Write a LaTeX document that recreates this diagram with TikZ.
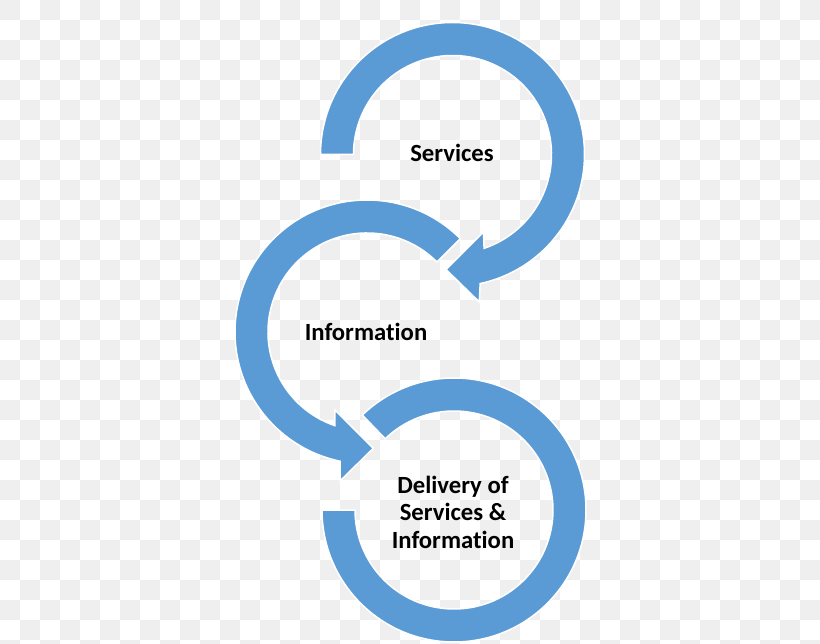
\documentclass[tikz,border=0pt]{standalone}
\usepackage{fontspec}
\setmainfont{Carlito}[Ligatures=NoCommon]
\usetikzlibrary{calc}
\definecolor{ringblue}{RGB}{91,155,213}
\definecolor{checkgray}{RGB}{239,239,239}
\tikzset{
  ringshape/.style={fill=ringblue, draw=white, line width=1.5, line join=miter},
  lbl/.style={font=\fontsize{24.7}{27.5}\selectfont\bfseries, text=black, inner sep=0pt, align=center}
}
\begin{document}
\begin{tikzpicture}[x=1pt,y=-1pt]
\useasboundingbox (0,0) rectangle (820,644);
\fill[white] (0,0) rectangle (820,644);
% checkerboard background
\foreach \i in {0,...,40}{
  \foreach \j in {0,...,32}{
    \pgfmathtruncatemacro\chk{mod(\i+\j,2)}
    \ifnum\chk=0
      \fill[checkgray] (20*\i,20*\j) rectangle ++(20,20);
    \fi
  }
}
\coordinate (C1) at (452.5,154.5);
\coordinate (C2) at (367,332);
\coordinate (C3) at (454,510);
% arrow 1 (Services)
\path[ringshape] ($(C1)+(180:132)$) arc[start angle=180, end angle=437.9, radius=132]
  -- (479.3,302) -- (446,269.5) -- (483.5,232)
  -- ($(C1)+(431.4:99)$) arc[start angle=431.4, end angle=180, radius=99] -- cycle;
% arrow 2 (Information)
\path[ringshape] ($(C2)+(-45:132)$) arc[start angle=-45, end angle=-258.2, radius=132]
  -- (340,481) -- (373.3,448.3) -- (335,410)
  -- ($(C2)+(-251.1:99)$) arc[start angle=-251.1, end angle=-45, radius=99] -- cycle;
% ring 3 (Delivery)
\path[ringshape] ($(C3)+(180:132)$) arc[start angle=180, end angle=-134, radius=132]
  -- ($(C3)+(-134:99)$) arc[start angle=-134, end angle=180, radius=99] -- cycle;
% labels
\node[lbl, anchor=base] (services) at (452,161.7) {Services};
\node[lbl, anchor=base] (information) at (366,340.7) {Information};
\node[lbl, anchor=center] (delivery) at (453,512) {Delivery of\\Services \&\\Information};
\end{tikzpicture}
\end{document}
